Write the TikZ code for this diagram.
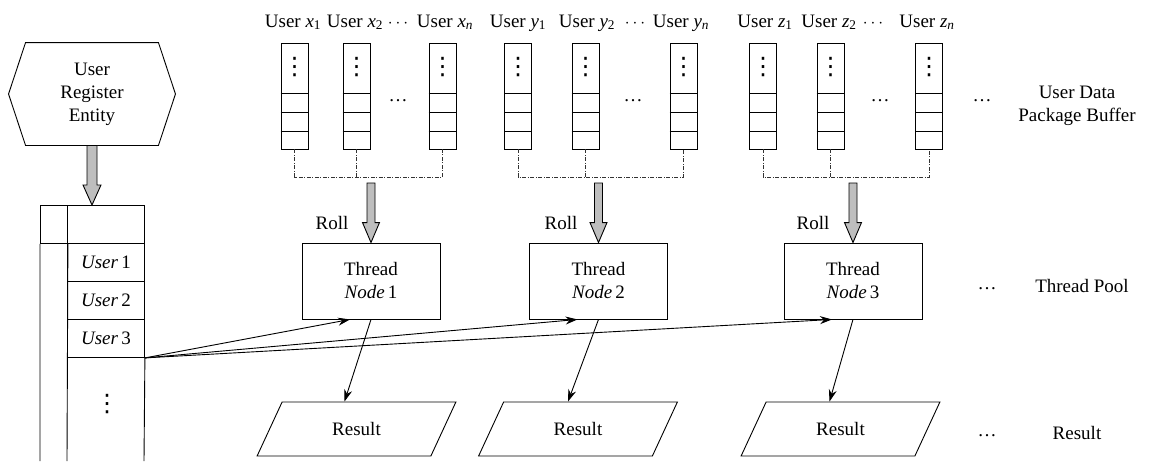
\documentclass[tikz,border=0pt]{standalone}
\usepackage{fontspec}
\setmainfont{Liberation Serif}
\newfontfamily\dvs{DejaVu Sans}
\usetikzlibrary{arrows.meta,calc,shapes.geometric}
\definecolor{arrowgray}{HTML}{BEBEBE}
\newcommand\vdts{{\dvs\fontsize{24}{24}\selectfont ⋮}}
\newcommand\usub[2]{\textit{#1}\textsubscript{#2}}
\newcommand\fatarrow[4]{%
  \draw[fill=arrowgray] let \p1=(#1), \p2=(#2) in
    (\x2-#3,\y1) -- (\x2-#3,\y2+20pt) -- (\x2-#4,\y2+20pt) -- (\x2,\y2)
    -- (\x2+#4,\y2+20pt) -- (\x2+#3,\y2+20pt) -- (\x2+#3,\y1) -- cycle;}
\newcommand\buf[2]{%
  \node[bufbox] (#1) at (#2,96) {};
  \draw ([yshift=56pt]#1.south west) -- ([yshift=56pt]#1.south east)
        ([yshift=37pt]#1.south west) -- ([yshift=37pt]#1.south east)
        ([yshift=18.5pt]#1.south west) -- ([yshift=18.5pt]#1.south east);
  \node (#1d) at ($(#1.north)+(0,24)$) {\vdts};}
\begin{document}
\begin{tikzpicture}[x=1pt,y=-1pt,line width=0.9pt,
  every node/.style={font=\fontsize{19}{23}\selectfont,inner sep=0pt,align=center},
  cell/.style={draw,minimum width=77pt,minimum height=38pt,anchor=north west},
  bufbox/.style={draw,minimum width=27pt,minimum height=106pt},
  thread/.style={draw,minimum width=138pt,minimum height=76pt},
  res/.style={draw,trapezium,trapezium left angle=58.6,trapezium right angle=121.4,
    trapezium stretches=true,minimum width=199pt,minimum height=54pt},
  dd/.style={line width=0.7pt,draw=black!80,dash pattern=on 4pt off 1.5pt on 1pt off 1.5pt},
  arr/.style={-{Stealth[length=12pt,width=8pt]}},
  lbl/.style={anchor=base}]
\useasboundingbox (0,0) rectangle (1149,461);

% user register entity
\node[minimum width=132pt,minimum height=102pt] (hex) at (92,94) {User\\Register\\Entity};
\draw ([xshift=-17pt]hex.west) -- (hex.north west) -- (hex.north east)
  -- ([xshift=17pt]hex.east) -- (hex.south east) -- (hex.south west) -- cycle;

% register table
\node[draw,minimum width=27pt,minimum height=38pt,anchor=north west] (tl) at (40,205) {};
\node[cell] (top) at (67,205) {};
\node[cell] (u1) at (67,243) {\textit{User}\,1};
\node[cell] (u2) at (67,281) {\textit{User}\,2};
\node[cell] (u3) at (67,319) {\textit{User}\,3};
\draw (tl.south west) -- (40,461) (tl.south east) -- (67,461) (u3.south east) -- (144,461);
\node (udots) at (107,404) {\vdts};
\fatarrow{hex.south}{hex.south |- top.north}{5pt}{9pt}

% buffers
\buf{bx1}{294.5}\buf{bx2}{356.5}\buf{bxn}{442.5}
\buf{by1}{518}\buf{by2}{585.5}\buf{byn}{683.5}
\buf{bz1}{763}\buf{bz2}{830.5}\buf{bzn}{929}

\node[lbl] (lx1) at (293,27) {User \usub{x}{1}};
\node[lbl] (lx2) at (355,27) {User \usub{x}{2}};
\node[lbl] (lxd) at (398,27) {$\cdots$};
\node[lbl] (lxn) at (445,27) {User \usub{x}{\textit{n}}};
\node[lbl] (ly1) at (518,27) {User \usub{y}{1}};
\node[lbl] (ly2) at (587,27) {User \usub{y}{2}};
\node[lbl] (lyd) at (635,27) {$\cdots$};
\node[lbl] (lyn) at (681,27) {User \usub{y}{\textit{n}}};
\node[lbl] (lz1) at (765,27) {User \usub{z}{1}};
\node[lbl] (lz2) at (829,27) {User \usub{z}{2}};
\node[lbl] (lzd) at (873,27) {$\cdots$};
\node[lbl] (lzn) at (927,27) {User \usub{z}{\textit{n}}};

\node[lbl] (dx) at (398,101) {…};
\node[lbl] (dy) at (633,101) {…};
\node[lbl] (dz) at (880,101) {…};
\node[lbl] (dr) at (982,101) {…};
\node (bufl) at (1077,106) {User Data\\Package Buffer};

% dash-dot collectors
\coordinate (jn) at (0,177);
\draw[dd] (bx1.south) -- (bx1.south |- jn) -- (bxn.south |- jn) -- (bxn.south);
\draw[dd] (bx2.south) -- (bx2.south |- jn);
\draw[dd] (by1.south) -- (by1.south |- jn) -- (byn.south |- jn) -- (byn.south);
\draw[dd] (by2.south) -- (by2.south |- jn);
\draw[dd] (bz1.south) -- (bz1.south |- jn) -- (bzn.south |- jn) -- (bzn.south);
\draw[dd] (bz2.south) -- (bz2.south |- jn);

% threads
\node[thread] (t1) at (371,281) {Thread\\\textit{Node}\,1};
\node[thread] (t2) at (598.5,281) {Thread\\\textit{Node}\,2};
\node[thread] (t3) at (853,281) {Thread\\\textit{Node}\,3};
\coordinate (g1) at (371,183);
\coordinate (g2) at (598.5,183);
\coordinate (g3) at (853,183);
\fatarrow{g1}{t1.north}{4pt}{8.5pt}
\fatarrow{g2}{t2.north}{4pt}{8.5pt}
\fatarrow{g3}{t3.north}{4pt}{8.5pt}
\node (roll1) at (332,223) {Roll};
\node (roll2) at (561,223) {Roll};
\node (roll3) at (813,223) {Roll};
\node[lbl] (dt) at (987,289) {…};
\node (tpool) at (1082,286) {Thread Pool};

% results
\node[res] (r1) at (356.5,429) {Result};
\node[res] (r2) at (578,429) {Result};
\node[res] (r3) at (840.5,429) {Result};
\node[lbl] (drs) at (987,436) {…};
\node (rlbl) at (1077,433) {Result};

\draw[arr] (t1.south) -- ([xshift=-12pt]r1.north);
\draw[arr] (t2.south) -- ([xshift=-10pt]r2.north);
\draw[arr] (t3.south) -- ([xshift=-11pt]r3.north);

\draw[arr] (u3.south east) -- ([xshift=-21pt]t1.south);
\draw[arr] (u3.south east) -- ([xshift=-21pt]t2.south);
\draw[arr] (u3.south east) -- ([xshift=-21pt]t3.south);
\end{tikzpicture}
\end{document}
